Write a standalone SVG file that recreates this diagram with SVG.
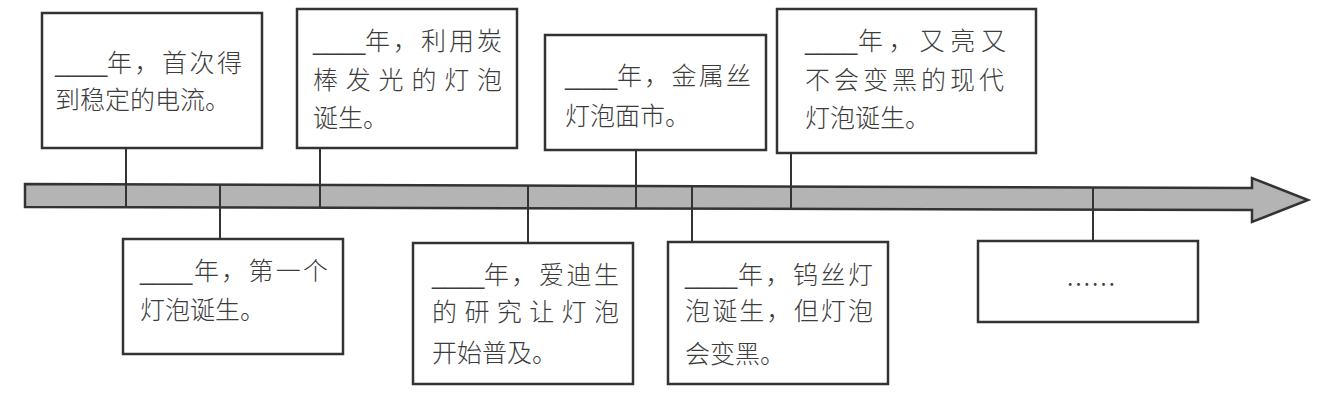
<svg xmlns="http://www.w3.org/2000/svg" width="1332" height="403" viewBox="0 0 1332 403">
<style>
.box{fill:#fff;stroke:#333;stroke-width:2.5}
.t{font-family:"Noto Sans CJK SC","Noto Sans",sans-serif;font-size:25px;font-weight:300;fill:#3c3c3c}
.u{font-family:"Liberation Sans",sans-serif;font-size:23.5px;fill:#3c3c3c}
.tick{stroke:#333;stroke-width:2;fill:none}
.arrow{fill:#b4b4b4;stroke:#333;stroke-width:2.5;stroke-linejoin:miter}
</style>
<rect width="1332" height="403" fill="#fff"/>
<g id="timeline">
<polygon class="arrow" points="25,184 1252,188 1252,178 1308,200 1252,222 1252,210 25,207"/>
</g>
<g id="connectors">
<line class="tick" x1="126" y1="148" x2="126" y2="207"/>
<line class="tick" x1="220" y1="185" x2="220" y2="239"/>
<line class="tick" x1="320" y1="148" x2="320" y2="208"/>
<line class="tick" x1="528" y1="186" x2="528" y2="243"/>
<line class="tick" x1="636" y1="150" x2="636" y2="209"/>
<line class="tick" x1="692" y1="187" x2="692" y2="242"/>
<line class="tick" x1="791" y1="153" x2="791" y2="210"/>
<line class="tick" x1="1093" y1="188" x2="1093" y2="241"/>
</g>
<g id="node1">
<rect class="box" x="42" y="13" width="220" height="135"/>
<text class="u" x="55" y="72">____</text>
<text class="t" x="107" y="72" textLength="135" lengthAdjust="spacing">年，首次得</text>
<text class="t" x="55" y="109">到稳定的电流。</text>
</g>
<g id="node2">
<rect class="box" x="123" y="239" width="220" height="115"/>
<text class="u" x="140" y="280">____</text>
<text class="t" x="194" y="280" textLength="134" lengthAdjust="spacing">年，第一个</text>
<text class="t" x="140" y="319">灯泡诞生。</text>
</g>
<g id="node3">
<rect class="box" x="297" y="9" width="220" height="139"/>
<text class="u" x="313" y="50">____</text>
<text class="t" x="365" y="50" textLength="137" lengthAdjust="spacing">年，利用炭</text>
<text class="t" x="313" y="89" textLength="189" lengthAdjust="spacing">棒发光的灯泡</text>
<text class="t" x="313" y="127">诞生。</text>
</g>
<g id="node4">
<rect class="box" x="413" y="243" width="220" height="141"/>
<text class="u" x="432" y="284">____</text>
<text class="t" x="484" y="284" textLength="135" lengthAdjust="spacing">年，爱迪生</text>
<text class="t" x="432" y="321" textLength="187" lengthAdjust="spacing">的研究让灯泡</text>
<text class="t" x="432" y="362">开始普及。</text>
</g>
<g id="node5">
<rect class="box" x="545" y="35" width="221" height="115"/>
<text class="u" x="565" y="85">____</text>
<text class="t" x="617" y="85" textLength="134" lengthAdjust="spacing">年，金属丝</text>
<text class="t" x="565" y="125">灯泡面市。</text>
</g>
<g id="node6">
<rect class="box" x="668" y="242" width="220" height="142"/>
<text class="u" x="685" y="284">____</text>
<text class="t" x="738" y="284" textLength="135" lengthAdjust="spacing">年，钨丝灯</text>
<text class="t" x="685" y="320" textLength="188" lengthAdjust="spacing">泡诞生，但灯泡</text>
<text class="t" x="685" y="363">会变黑。</text>
</g>
<g id="node7">
<rect class="box" x="777" y="9" width="259" height="144"/>
<text class="u" x="805" y="50">____</text>
<text class="t" x="858" y="50" textLength="148" lengthAdjust="spacing">年，又亮又</text>
<text class="t" x="805" y="89" textLength="199" lengthAdjust="spacing">不会变黑的现代</text>
<text class="t" x="805" y="127">灯泡诞生。</text>
</g>
<g id="node8">
<rect class="box" x="978" y="241" width="220" height="81"/>
<text class="t" x="1091" y="294" text-anchor="middle">……</text>
</g>
</svg>
